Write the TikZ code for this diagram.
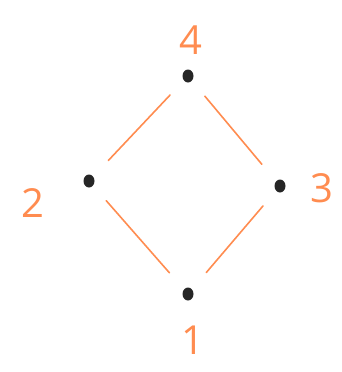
\documentclass[tikz,border=0pt]{standalone}
\usepackage{fontspec}
\setmainfont{Open Sans}
\usetikzlibrary{positioning,shapes.geometric}
\definecolor{handorange}{RGB}{255,140,80}
\tikzstyle{edge} = [handorange, line width=1.6pt, line cap=round]

\begin{document}
\begin{tikzpicture}
    [x=1pt,y=-1pt,every node/.style={inner sep=0pt},
    dot/.style={ellipse, fill=black!85, minimum width=11pt, minimum height=13pt},
    lbl/.style={text=handorange, font=\fontsize{40}{40}\selectfont}]
    \useasboundingbox (0,0) rectangle (342,372);
    \node[dot] (p4) at (188,76){};
    \node[dot] (p2) at (89,181){};
    \node[dot] (p3) at (280,186){};
    \node[dot] (p1) at (188,294){};
    \node[lbl] (l4) at (191,40){4};
    \node[lbl] (l2) at (33,203){2};
    \node[lbl] (l3) at (322,188){3};
    \node[lbl] (l1) at (193,340){1};
    \foreach \from/\to in {p4/p2,p4/p3,p2/p1,p3/p1}
    \draw[edge, shorten <=20pt, shorten >=22pt] (\from) -- (\to);
\end{tikzpicture}
\end{document}
